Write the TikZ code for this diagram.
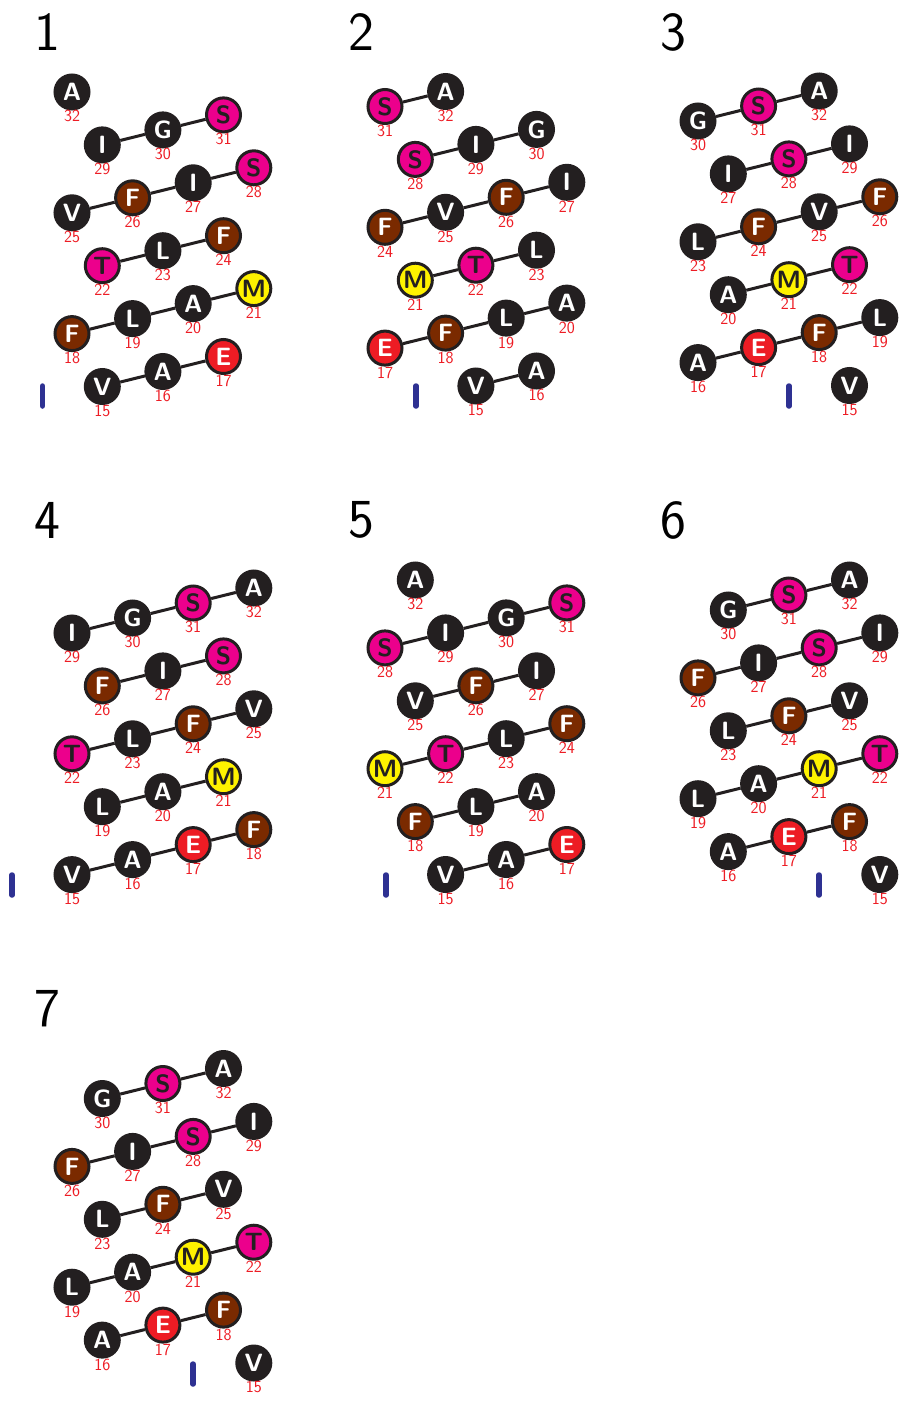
\documentclass[tikz,border=0pt]{standalone}
\usepackage{tikz}

\definecolor{ink}{HTML}{231F20}
\definecolor{respink}{HTML}{EC008C}
\definecolor{resred}{HTML}{ED1C24}
\definecolor{resbrown}{HTML}{7A2A00}
\definecolor{resyellow}{HTML}{FFF200}
\definecolor{numred}{HTML}{ED1C24}
\definecolor{barblue}{HTML}{2E3192}

% one helical net: name, x of column 0, y of row 0, residues, bonds
\newcommand{\helixnet}[5]{%
    \foreach \n/\l/\t/\c/\r in {#4}
        \node[\t, label={[num]below:\n}] (#1-\n) at ({#2+30.3*\c}, {#3+60.4*\r-7.5*\c}) {\l};
    \foreach \a/\b in {#5}
        \draw[bond] (#1-\a) -- (#1-\b);
}

\begin{document}
\begin{tikzpicture}[
        x=1pt, y=-1pt,
        res/.style={circle, draw=ink, line width=3pt, minimum size=34pt, inner sep=0pt, label distance=2.5pt, font=\sffamily\bfseries\fontsize{25}{25}\selectfont, text=white},
        hyd/.style={res, fill=ink},
        pol/.style={res, fill=respink, text=ink},
        acid/.style={res, fill=resred},
        aro/.style={res, fill=resbrown},
        met/.style={res, fill=resyellow, text=ink},
        num/.style={text=numred, font=\sffamily\fontsize{17}{17}\selectfont, inner sep=0pt, outer sep=0pt},
        bond/.style={draw=ink, line width=3pt},
        helixbar/.style={draw=barblue, line width=5.5pt, line cap=round},
        panelno/.style={font=\sffamily\fontsize{55}{55}\selectfont, inner sep=0pt}
    ]
    \useasboundingbox (0,0) rectangle (905,1405);

    % panel numbers
    \node[panelno] (n1) at (47,32) {1};
    \node[panelno] (n2) at (361,32) {2};
    \node[panelno] (n3) at (673,32) {3};
    \node[panelno] (n4) at (47,520) {4};
    \node[panelno] (n5) at (361,520) {5};
    \node[panelno] (n6) at (673,520) {6};
    \node[panelno] (n7) at (47,1009) {7};

    % 1
    \helixnet{p1}{72}{92}{32/A/hyd/0/0,
        29/I/hyd/1/1, 30/G/hyd/3/1, 31/S/pol/5/1,
        25/V/hyd/0/2, 26/F/aro/2/2, 27/I/hyd/4/2, 28/S/pol/6/2,
        22/T/pol/1/3, 23/L/hyd/3/3, 24/F/aro/5/3,
        18/F/aro/0/4, 19/L/hyd/2/4, 20/A/hyd/4/4, 21/M/met/6/4,
        15/V/hyd/1/5, 16/A/hyd/3/5, 17/E/acid/5/5}
        {29/30, 30/31, 25/26, 26/27, 27/28, 22/23, 23/24, 18/19, 19/20, 20/21, 15/16, 16/17}
    \draw[helixbar] (42.5,386) -- (42.5,406);

    % 2
    \helixnet{p2}{385}{106.5}{31/S/pol/0/0, 32/A/hyd/2/0,
        28/S/pol/1/1, 29/I/hyd/3/1, 30/G/hyd/5/1,
        24/F/aro/0/2, 25/V/hyd/2/2, 26/F/aro/4/2, 27/I/hyd/6/2,
        21/M/met/1/3, 22/T/pol/3/3, 23/L/hyd/5/3,
        17/E/acid/0/4, 18/F/aro/2/4, 19/L/hyd/4/4, 20/A/hyd/6/4,
        15/V/hyd/3/5, 16/A/hyd/5/5}
        {31/32, 28/29, 29/30, 24/25, 25/26, 26/27, 21/22, 22/23, 17/18, 18/19, 19/20, 15/16}
    \draw[helixbar] (416,386) -- (416,406);

    % 3
    \helixnet{p3}{698}{121}{30/G/hyd/0/0, 31/S/pol/2/0, 32/A/hyd/4/0,
        27/I/hyd/1/1, 28/S/pol/3/1, 29/I/hyd/5/1,
        23/L/hyd/0/2, 24/F/aro/2/2, 25/V/hyd/4/2, 26/F/aro/6/2,
        20/A/hyd/1/3, 21/M/met/3/3, 22/T/pol/5/3,
        16/A/hyd/0/4, 17/E/acid/2/4, 18/F/aro/4/4, 19/L/hyd/6/4,
        15/V/hyd/5/5}
        {30/31, 31/32, 27/28, 28/29, 23/24, 24/25, 25/26, 20/21, 21/22, 16/17, 17/18, 18/19}
    \draw[helixbar] (789,386) -- (789,406);

    % 4
    \helixnet{p4}{72}{633}{29/I/hyd/0/0, 30/G/hyd/2/0, 31/S/pol/4/0, 32/A/hyd/6/0,
        26/F/aro/1/1, 27/I/hyd/3/1, 28/S/pol/5/1,
        22/T/pol/0/2, 23/L/hyd/2/2, 24/F/aro/4/2, 25/V/hyd/6/2,
        19/L/hyd/1/3, 20/A/hyd/3/3, 21/M/met/5/3,
        15/V/hyd/0/4, 16/A/hyd/2/4, 17/E/acid/4/4, 18/F/aro/6/4}
        {29/30, 30/31, 31/32, 26/27, 27/28, 22/23, 23/24, 24/25, 19/20, 20/21, 15/16, 16/17, 17/18}
    \draw[helixbar] (12,875) -- (12,895);

    % 5
    \helixnet{p5}{385}{587.5}{32/A/hyd/1/0,
        28/S/pol/0/1, 29/I/hyd/2/1, 30/G/hyd/4/1, 31/S/pol/6/1,
        25/V/hyd/1/2, 26/F/aro/3/2, 27/I/hyd/5/2,
        21/M/met/0/3, 22/T/pol/2/3, 23/L/hyd/4/3, 24/F/aro/6/3,
        18/F/aro/1/4, 19/L/hyd/3/4, 20/A/hyd/5/4,
        15/V/hyd/2/5, 16/A/hyd/4/5, 17/E/acid/6/5}
        {28/29, 29/30, 30/31, 25/26, 26/27, 21/22, 22/23, 23/24, 18/19, 19/20, 15/16, 16/17}
    \draw[helixbar] (386,875) -- (386,895);

    % 6
    \helixnet{p6}{698}{617.5}{30/G/hyd/1/0, 31/S/pol/3/0, 32/A/hyd/5/0,
        26/F/aro/0/1, 27/I/hyd/2/1, 28/S/pol/4/1, 29/I/hyd/6/1,
        23/L/hyd/1/2, 24/F/aro/3/2, 25/V/hyd/5/2,
        19/L/hyd/0/3, 20/A/hyd/2/3, 21/M/met/4/3, 22/T/pol/6/3,
        16/A/hyd/1/4, 17/E/acid/3/4, 18/F/aro/5/4,
        15/V/hyd/6/5}
        {30/31, 31/32, 26/27, 27/28, 28/29, 23/24, 24/25, 19/20, 20/21, 21/22, 16/17, 17/18}
    \draw[helixbar] (819,875) -- (819,895);

    % 7
    \helixnet{p7}{72}{1106}{30/G/hyd/1/0, 31/S/pol/3/0, 32/A/hyd/5/0,
        26/F/aro/0/1, 27/I/hyd/2/1, 28/S/pol/4/1, 29/I/hyd/6/1,
        23/L/hyd/1/2, 24/F/aro/3/2, 25/V/hyd/5/2,
        19/L/hyd/0/3, 20/A/hyd/2/3, 21/M/met/4/3, 22/T/pol/6/3,
        16/A/hyd/1/4, 17/E/acid/3/4, 18/F/aro/5/4,
        15/V/hyd/6/5}
        {30/31, 31/32, 26/27, 27/28, 28/29, 23/24, 24/25, 19/20, 20/21, 21/22, 16/17, 17/18}
    \draw[helixbar] (193,1364) -- (193,1384);
\end{tikzpicture}
\end{document}
